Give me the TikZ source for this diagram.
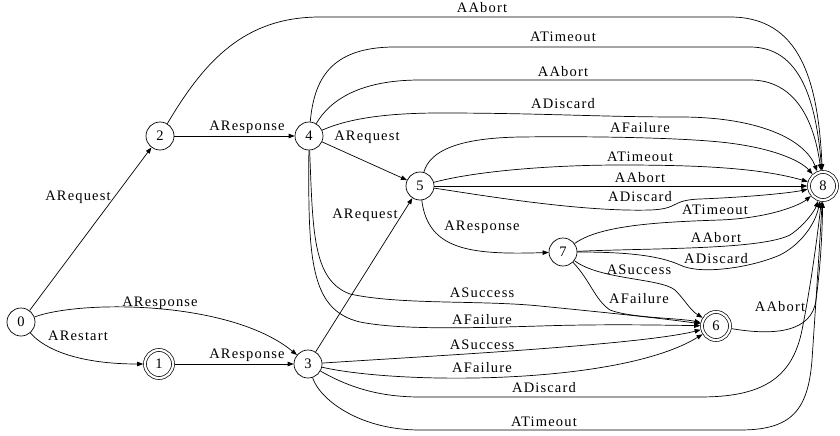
\documentclass[tikz,border=0pt]{standalone}
\usepackage{fontspec}
\setmainfont{Liberation Serif}
\newfontfamily\lblfont{Liberation Serif}[LetterSpace=8]
\usetikzlibrary{arrows.meta}
\begin{document}
\begin{tikzpicture}[x=1pt,y=-1pt,
  st/.style={circle, draw, line width=0.7pt, minimum size=28pt, inner sep=0pt, font=\lblfont\fontsize{14.5}{16}\selectfont},
  acc/.style={st, double, double distance=2.2pt, outer sep=1.8pt},
  e/.style={line width=0.7pt, -{Triangle[length=6pt,width=4.5pt]}},
  lbl/.style={font=\lblfont\fontsize{14.5}{16}\selectfont, inner sep=0pt}]
\useasboundingbox (0,0) rectangle (840,436);
\node[st]  (n0) at (21,322) {0};
\node[acc] (n1) at (159,364) {1};
\node[st]  (n2) at (160,136) {2};
\node[st]  (n3) at (308,364) {3};
\node[st]  (n4) at (309,136) {4};
\node[st]  (n5) at (420,186) {5};
\node[acc] (n6) at (716,326) {6};
\node[st]  (n7) at (563,252) {7};
\node[acc] (n8) at (823,186) {8};
% from 0
\draw[e] (n0) -- (n2) node[lbl, at={(78,197)}] {ARequest};
\draw[e] (n0) .. controls (45,350) and (80,364) .. (n1) node[lbl, at={(78,336)}] {ARestart};
\draw[e] (n0) .. controls (80,300) and (230,300) .. (n3) node[lbl, at={(160,303)}] {AResponse};
% 1, 2
\draw[e] (n1) -- (n3) node[lbl, at={(247,355)}] {AResponse};
\draw[e] (n2) -- (n4) node[lbl, at={(247,127)}] {AResponse};
\draw[e] (n2) .. controls (205,60) and (245,17) .. (320,17) -- (730,17) .. controls (800,17) and (818,80) .. (n8) node[lbl, at={(482,8)}] {AAbort};
% from 4
\draw[e] (n4) .. controls (314,80) and (330,47) .. (395,47) -- (750,47) .. controls (800,47) and (816,100) .. (n8) node[lbl, at={(563,37)}] {ATimeout};
\draw[e] (n4) .. controls (330,100) and (360,80) .. (420,80) -- (750,80) .. controls (795,80) and (814,120) .. (n8) node[lbl, at={(563,72)}] {AAbort};
\draw[e] (n4) .. controls (345,120) and (380,113) .. (440,113) .. controls (540,113) and (600,117) .. (680,117) .. controls (760,117) and (805,140) .. (n8) node[lbl, at={(563,104)}] {ADiscard};
\draw[e] (n4) -- (n5) node[lbl, at={(367,137)}] {ARequest};
\draw[e] (n4) .. controls (313,230) and (312,280) .. (350,294) .. controls (400,305) and (480,300) .. (540,306) .. controls (600,312) and (660,318) .. (n6) node[lbl, at={(482,293)}] {ASuccess};
\draw[e] (n4) .. controls (308,260) and (310,310) .. (360,322) .. controls (400,330) and (470,328) .. (540,326) .. controls (600,324) and (660,325) .. (n6) node[lbl, at={(482,320)}] {AFailure};
% from 3
\draw[e] (n3) -- (n5) node[lbl, at={(365,215)}] {ARequest};
\draw[e] (n3) .. controls (430,356) and (640,345) .. (n6) node[lbl, at={(482,345)}] {ASuccess};
\draw[e] (n3) .. controls (400,385) and (620,385) .. (n6) node[lbl, at={(482,368)}] {AFailure};
\draw[e] (n3) .. controls (345,385) and (375,397) .. (420,397) -- (700,397) .. controls (760,397) and (792,380) .. (802,330) .. controls (810,290) and (817,240) .. (n8) node[lbl, at={(544,388)}] {ADiscard};
\draw[e] (n3) .. controls (320,400) and (360,430) .. (420,430) -- (740,430) .. controls (792,430) and (808,410) .. (812,360) .. controls (816,300) and (820,240) .. (n8) node[lbl, at={(544,422)}] {ATimeout};
% from 5
\draw[e] (n5) .. controls (430,150) and (460,138) .. (520,137) .. controls (600,136) and (680,138) .. (720,142) .. controls (770,147) and (800,160) .. (n8) node[lbl, at={(640,128)}] {AFailure};
\draw[e] (n5) .. controls (480,170) and (560,165) .. (620,165) .. controls (700,165) and (760,168) .. (n8) node[lbl, at={(640,157)}] {ATimeout};
\draw[e] (n5) -- (n8) node[lbl, at={(640,178)}] {AAbort};
\draw[e] (n5) .. controls (480,195) and (580,212) .. (650,210) .. controls (680,209) and (670,200) .. (700,199) .. controls (750,197) and (790,193) .. (n8) node[lbl, at={(640,197)}] {ADiscard};
\draw[e] (n5) .. controls (428,250) and (470,255) .. (n7) node[lbl, at={(482,227)}] {AResponse};
% from 7
\draw[e] (n7) .. controls (600,225) and (660,222) .. (720,220) .. controls (770,218) and (800,205) .. (n8) node[lbl, at={(715,210)}] {ATimeout};
\draw[e] (n7) .. controls (650,248) and (760,250) .. (790,235) .. controls (805,225) and (815,210) .. (n8) node[lbl, at={(716,238)}] {AAbort};
\draw[e] (n7) .. controls (630,252) and (660,256) .. (680,265) .. controls (700,275) and (750,268) .. (780,255) .. controls (800,245) and (815,225) .. (n8) node[lbl, at={(716,259)}] {ADiscard};
\draw[e] (n7) .. controls (600,280) and (660,278) .. (675,290) .. controls (685,300) and (690,310) .. (n6) node[lbl, at={(639,270)}] {ASuccess};
\draw[e] (n7) .. controls (590,280) and (595,300) .. (610,310) .. controls (630,318) and (680,318) .. (n6) node[lbl, at={(639,299)}] {AFailure};
% from 6
\draw[e] (n6) .. controls (775,336) and (812,332) .. (816,300) .. controls (820,270) and (822,240) .. (n8) node[lbl, at={(780,307)}] {AAbort};
\end{tikzpicture}
\end{document}
